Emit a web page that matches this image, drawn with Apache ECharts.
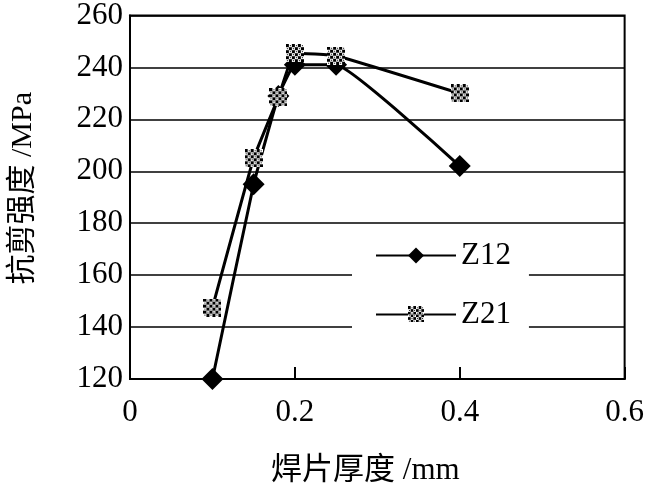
<!DOCTYPE html>
<html>
<head>
<meta charset="utf-8">
<script src="https://cdn.jsdelivr.net/npm/echarts@6/dist/echarts.min.js"></script>
<style>
html,body{margin:0;padding:0;background:#fff;}
#main{width:647px;height:491px;}
</style>
</head>
<body>
<div id="main"></div>
<script>
// Data
var seriesNames = ['Z12', 'Z21'];
var z12X = [0.1, 0.15, 0.18, 0.2, 0.25, 0.4];
var z12Y = [120, 195, 229, 241, 241, 202];
var z21X = [0.1, 0.15, 0.18, 0.2, 0.25, 0.4];
var z21Y = [147.5, 205, 228.5, 245.5, 244.5, 230];
var xTicks = [0, 0.2, 0.4, 0.6];
var yTicks = [120, 140, 160, 180, 200, 220, 240, 260];

function pairs(xs, ys) { return xs.map(function (x, i) { return [x, ys[i]]; }); }

// checkered dither image for Z21 markers
function ditherImage(n) {
  var c = document.createElement('canvas');
  c.width = n; c.height = n;
  var ctx = c.getContext('2d');
  ctx.fillStyle = '#fff'; ctx.fillRect(0, 0, n, n);
  ctx.fillStyle = '#000';
  for (var i = 0; i < n; i += 3) for (var j = 0; j < n; j += 3) {
    if (((i / 3) + (j / 3)) % 2 === 0) {
      ctx.fillRect(i, j, 3, 3);
    } else {
      ctx.fillRect(i + 1, j + 1, 1, 1);
    }
  }
  return c.toDataURL();
}
var ditherSym = 'image://' + ditherImage(18);

var serif = '"Liberation Serif", "Times New Roman", "Noto Sans CJK SC", serif';
var chart = echarts.init(document.getElementById('main'), null, {renderer: 'canvas'});
chart.setOption({
  animation: false,
  backgroundColor: '#fff',
  grid: {left: 125, right: 15, top: 12, bottom: 112, show: true, borderColor: '#000', borderWidth: 2, backgroundColor: 'transparent'},
  xAxis: {
    type: 'value', min: xTicks[0], max: xTicks[xTicks.length - 1], interval: 0.2,
    name: '焊片厚度 /mm', nameLocation: 'middle', nameGap: 76,
    nameTextStyle: {fontFamily: serif, fontSize: 31, color: '#000', padding: [0, 24, 0, 0]},
    axisLine: {lineStyle: {color: '#000', width: 2}},
    axisTick: {show: true, inside: true, length: 12, lineStyle: {color: '#000', width: 2}},
    splitLine: {show: false},
    axisLabel: {fontFamily: serif, fontSize: 31, color: '#000', margin: 18,
      formatter: function (v) { return String(Math.round(v * 10) / 10); }}
  },
  yAxis: {
    type: 'value', min: yTicks[0], max: yTicks[yTicks.length - 1], interval: 20,
    name: '抗剪强度 /MPa', nameLocation: 'middle', nameGap: 92,
    nameTextStyle: {fontFamily: serif, fontSize: 30, color: '#000', padding: [0, 0, 0, 18]},
    axisLine: {show: true, lineStyle: {color: '#000', width: 2}},
    axisTick: {show: false},
    splitLine: {show: true, lineStyle: {color: '#000', width: 1.5}},
    axisLabel: {fontFamily: serif, fontSize: 31, color: '#000', margin: 7}
  },
  legend: {
    orient: 'vertical', left: 352, top: 228,
    padding: [12, 18, 7, 23], backgroundColor: '#fff',
    itemWidth: 80, itemHeight: 20, itemGap: 28,
    textStyle: {fontFamily: serif, fontSize: 31, color: '#000', lineHeight: 30},
    data: seriesNames
  },
  series: [
    {
      name: seriesNames[0], type: 'line', smooth: 0.1,
      data: pairs(z12X, z12Y),
      symbol: 'diamond', symbolSize: 22,
      lineStyle: {color: '#000', width: 3},
      itemStyle: {color: '#000', borderColor: '#000', borderWidth: 0}
    },
    {
      name: seriesNames[1], type: 'line', smooth: 0.1,
      data: pairs(z21X, z21Y),
      symbol: ditherSym, symbolSize: 18,
      lineStyle: {color: '#000', width: 3},
      itemStyle: {color: '#888', borderWidth: 0}
    }
  ]
});
</script>
</body>
</html>
